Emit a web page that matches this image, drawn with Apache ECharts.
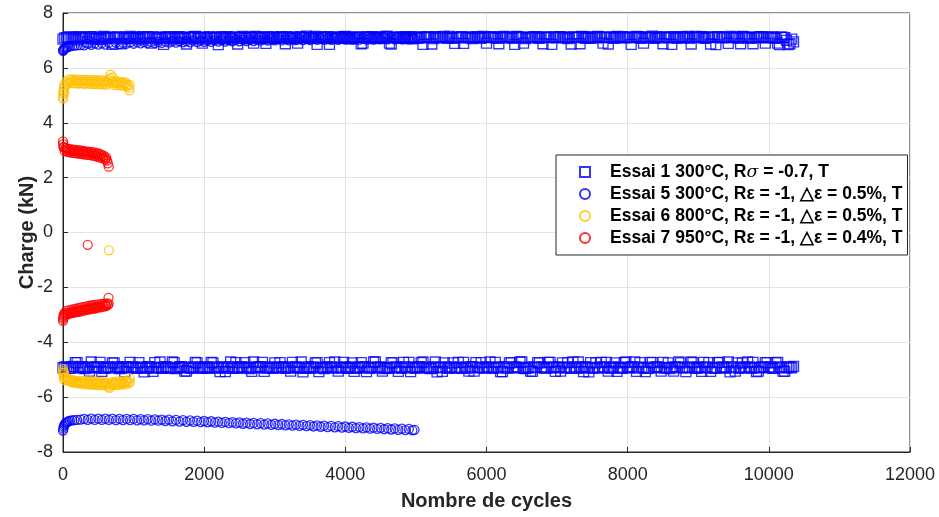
<!DOCTYPE html>
<html><head><meta charset="utf-8">
<script src="https://cdn.jsdelivr.net/npm/echarts@6/dist/echarts.min.js"></script>
<style>html,body{margin:0;padding:0;background:#fff}#c{width:939px;height:517px}</style>
</head><body><div id="c"></div>
<script>
// ---- Data ----
const xTicks = [0, 2000, 4000, 6000, 8000, 10000, 12000];
const yTicks = [-8, -6, -4, -2, 0, 2, 4, 6, 8];

const seriesNames = [
  'Essai 1 300°C, Rσ = -0.7, T',
  'Essai 5 300°C, Rε = -1, \u25B3ε = 0.5%, T',
  'Essai 6 800°C, Rε = -1, \u25B3ε = 0.5%, T',
  'Essai 7 950°C, Rε = -1, \u25B3ε = 0.4%, T'
];

// Essai 1 (squares): cycles and peak loads (max / min)
const e1Cycles = [
  0,50,100,150,200,250,300,350,400,450,500,550,600,650,700,750,800,850,900,950,
  1000,1050,1100,1150,1200,1250,1300,1350,1400,1450,1500,1550,1600,1650,1700,1750,1800,1850,1900,1950,
  2000,2050,2100,2150,2200,2250,2300,2350,2400,2450,2500,2550,2600,2650,2700,2750,2800,2850,2900,2950,
  3000,3050,3100,3150,3200,3250,3300,3350,3400,3450,3500,3550,3600,3650,3700,3750,3800,3850,3900,3950,
  4000,4050,4100,4150,4200,4250,4300,4350,4400,4450,4500,4550,4600,4650,4700,4750,4800,4850,4900,4950,
  5000,5050,5100,5150,5200,5250,5300,5350,5400,5450,5500,5550,5600,5650,5700,5750,5800,5850,5900,5950,
  6000,6050,6100,6150,6200,6250,6300,6350,6400,6450,6500,6550,6600,6650,6700,6750,6800,6850,6900,6950,
  7000,7050,7100,7150,7200,7250,7300,7350,7400,7450,7500,7550,7600,7650,7700,7750,7800,7850,7900,7950,
  8000,8050,8100,8150,8200,8250,8300,8350,8400,8450,8500,8550,8600,8650,8700,8750,8800,8850,8900,8950,
  9000,9050,9100,9150,9200,9250,9300,9350,9400,9450,9500,9550,9600,9650,9700,9750,9800,9850,9900,9950,
  10000,10050,10100,10150,10200,10250,10300,10350];
const e1Max = [
  7.05,7.1,7.13,7.08,7.02,7.12,7.09,6.95,7.14,7.07,7.11,7.04,7.1,7.13,6.86,7.09,7.12,7.06,7.1,7.15,
  7.08,7.12,7.05,7.1,7.14,6.9,7.09,7.12,7.07,7.11,7.14,7.06,7.1,7.13,7.08,6.87,7.11,7.14,7.07,7.1,
  7.13,7.06,7.12,7.09,6.85,7.14,7.08,7.11,7.05,7.12,7.1,7.15,7.07,7.11,6.9,7.13,7.08,7.1,7.14,7.06,
  7.11,7.09,7.14,6.88,7.1,7.12,7.07,7.13,7.1,7.16,7.08,7.11,6.86,7.12,7.09,7.14,7.07,7.1,7.13,7.08,
  7.15,7.1,7.06,7.12,7.09,6.9,7.14,7.1,7.07,7.13,7.11,7.08,7.15,6.87,7.1,7.12,7.08,7.14,7.1,7.06,
  7.12,7.09,6.86,7.14,7.1,7.07,7.13,7.11,7.15,7.08,7.1,6.89,7.12,7.14,7.09,7.11,7.07,7.13,7.1,7.15,
  6.9,7.1,7.13,7.08,7.12,7.15,7.09,7.11,6.86,7.14,7.1,7.07,7.12,7.1,7.14,7.08,6.88,7.12,7.1,7.13,
  7.09,7.14,7.11,7.07,6.87,7.12,7.1,7.15,7.08,7.11,7.13,7.09,7.14,6.9,7.1,7.12,7.08,7.15,7.11,7.09,
  7.13,6.86,7.1,7.14,7.08,7.12,7.1,7.16,7.09,7.12,6.88,7.1,7.14,7.11,7.08,7.13,7.1,7.15,6.87,7.12,
  7.1,7.14,7.08,7.12,7.1,6.85,7.13,7.09,7.11,7.15,7.1,7.12,6.88,7.14,7.1,7.08,7.12,7.1,7.14,6.9,
  7.1,7.13,7.08,6.85,7.11,7.0,6.88,6.95];
const e1Min = [
  -4.93,-4.9,-4.95,-4.88,-4.74,-4.92,-4.96,-4.9,-4.72,-4.93,-4.89,-5.06,-4.94,-4.9,-4.75,-4.92,-4.96,-4.89,-4.93,-4.73,
  -4.9,-4.95,-4.92,-5.08,-4.89,-4.94,-4.74,-4.91,-4.95,-4.9,-4.93,-4.72,-4.96,-4.89,-4.92,-5.05,-4.94,-4.9,-4.75,-4.93,
  -4.91,-4.95,-4.73,-4.9,-4.94,-4.92,-5.07,-4.89,-4.95,-4.74,-4.91,-4.93,-4.9,-4.96,-4.72,-4.92,-4.89,-5.06,-4.94,-4.91,
  -4.75,-4.93,-4.9,-4.95,-4.92,-4.73,-4.89,-4.94,-5.08,-4.91,-4.95,-4.9,-4.74,-4.93,-4.96,-4.9,-4.92,-4.72,-5.05,-4.94,
  -4.9,-4.93,-4.75,-4.95,-4.91,-4.89,-5.07,-4.94,-4.72,-4.92,-4.9,-4.96,-4.93,-4.74,-4.91,-5.06,-4.95,-4.9,-4.73,-4.92,
  -4.94,-4.89,-4.72,-4.93,-4.96,-4.9,-5.08,-4.92,-4.75,-4.94,-4.9,-4.93,-4.73,-4.95,-4.91,-5.05,-4.89,-4.74,-4.93,-4.92,
  -4.9,-4.72,-4.95,-4.92,-5.07,-4.89,-4.94,-4.74,-4.91,-4.93,-4.72,-4.96,-4.9,-5.06,-4.93,-4.75,-4.91,-4.94,-4.73,-4.9,
  -4.93,-5.05,-4.92,-4.74,-4.95,-4.9,-4.72,-4.93,-4.89,-5.08,-4.94,-4.75,-4.91,-4.92,-4.73,-4.95,-4.9,-5.06,-4.93,-4.74,
  -4.92,-4.89,-4.72,-4.94,-4.91,-5.07,-4.95,-4.74,-4.9,-4.93,-4.73,-4.92,-4.96,-5.05,-4.9,-4.75,-4.93,-4.91,-4.72,-4.94,
  -4.9,-5.06,-4.93,-4.74,-4.92,-4.95,-4.73,-4.9,-4.94,-5.08,-4.91,-4.75,-4.93,-4.9,-4.72,-4.95,-4.92,-5.05,-4.9,-4.74,
  -4.92,-4.95,-4.75,-4.9,-5.05,-4.93,-4.9,-4.88];
// Essai 1, intermediate cycles
const e1CyclesB = [
  25,75,125,175,225,275,325,375,425,475,525,575,625,675,725,775,825,875,925,975,
  1025,1075,1125,1175,1225,1275,1325,1375,1425,1475,1525,1575,1625,1675,1725,1775,1825,1875,1925,1975,
  2025,2075,2125,2175,2225,2275,2325,2375,2425,2475,2525,2575,2625,2675,2725,2775,2825,2875,2925,2975,
  3025,3075,3125,3175,3225,3275,3325,3375,3425,3475,3525,3575,3625,3675,3725,3775,3825,3875,3925,3975,
  4025,4075,4125,4175,4225,4275,4325,4375,4425,4475,4525,4575,4625,4675,4725,4775,4825,4875,4925,4975,
  5025,5075,5125,5175,5225,5275,5325,5375,5425,5475,5525,5575,5625,5675,5725,5775,5825,5875,5925,5975,
  6025,6075,6125,6175,6225,6275,6325,6375,6425,6475,6525,6575,6625,6675,6725,6775,6825,6875,6925,6975,
  7025,7075,7125,7175,7225,7275,7325,7375,7425,7475,7525,7575,7625,7675,7725,7775,7825,7875,7925,7975,
  8025,8075,8125,8175,8225,8275,8325,8375,8425,8475,8525,8575,8625,8675,8725,8775,8825,8875,8925,8975,
  9025,9075,9125,9175,9225,9275,9325,9375,9425,9475,9525,9575,9625,9675,9725,9775,9825,9875,9925,9975,
  10025,10075,10125,10175,10225,10275,10325];
const e1MaxB = [
  7.09,7.12,7.06,7.11,7.14,7.08,7.1,7.13,7.05,7.12,7.09,7.15,7.08,7.11,7.1,7.13,6.88,7.12,7.08,7.1,
  7.12,7.07,7.14,7.1,7.09,7.13,7.06,7.11,6.86,7.12,7.1,7.08,7.14,7.11,7.07,7.12,7.1,7.15,7.09,6.9,
  7.1,7.13,7.08,7.12,7.1,7.06,7.14,7.09,7.12,6.87,7.11,7.08,7.13,7.1,7.15,7.07,7.12,6.89,7.1,7.13,
  7.08,7.12,7.1,7.14,7.07,7.11,6.9,7.13,7.09,7.12,7.1,7.15,7.08,7.11,7.13,6.86,7.1,7.12,7.09,7.14,
  7.1,7.07,7.13,7.11,6.88,7.12,7.09,7.14,7.1,7.08,7.12,7.15,6.9,7.11,7.09,7.13,7.1,7.07,7.14,7.11,
  7.08,7.13,7.1,7.12,6.87,7.14,7.09,7.11,7.1,7.15,7.08,7.12,7.1,6.89,7.13,7.09,7.11,7.14,7.08,7.12,
  7.11,7.14,7.09,6.88,7.12,7.1,7.13,7.08,7.15,7.11,6.9,7.1,7.12,7.14,7.09,7.11,7.13,7.1,6.86,7.12,
  7.14,7.1,7.12,7.09,7.13,7.11,6.88,7.14,7.1,7.08,7.12,7.15,7.1,7.11,6.87,7.13,7.09,7.12,7.14,7.1,
  7.1,7.12,7.15,7.09,6.9,7.13,7.11,7.08,7.14,7.1,7.12,7.09,6.86,7.13,7.1,7.14,7.11,7.08,7.12,7.15,
  7.12,7.09,7.13,6.87,7.11,7.14,7.1,7.12,6.89,7.1,7.13,7.08,7.15,7.11,7.1,6.88,7.12,7.14,7.09,7.11,
  7.12,7.09,6.9,7.13,7.1,6.85,7.05];
const e1MinB = [
  -4.91,-4.95,-4.9,-4.74,-4.93,-4.89,-4.94,-5.05,-4.92,-4.9,-4.73,-4.95,-4.91,-4.93,-4.75,-4.9,-4.94,-5.07,-4.92,-4.9,
  -4.94,-4.74,-4.91,-4.95,-4.9,-5.06,-4.93,-4.72,-4.92,-4.9,-4.95,-4.74,-4.93,-4.89,-5.05,-4.92,-4.94,-4.73,-4.91,-4.95,
  -4.9,-4.93,-4.75,-4.92,-5.07,-4.9,-4.94,-4.72,-4.91,-4.95,-4.9,-4.74,-4.93,-5.06,-4.92,-4.89,-4.73,-4.94,-4.91,-4.95,
  -4.92,-4.74,-4.9,-4.94,-5.05,-4.91,-4.93,-4.72,-4.95,-4.9,-4.92,-4.75,-5.07,-4.93,-4.9,-4.74,-4.94,-4.91,-4.92,-4.73,
  -4.95,-4.9,-5.06,-4.93,-4.74,-4.91,-4.94,-4.9,-4.72,-4.93,-5.05,-4.92,-4.95,-4.75,-4.9,-4.93,-4.73,-4.91,-5.07,-4.94,
  -4.9,-4.74,-4.93,-4.91,-4.95,-4.72,-4.92,-5.06,-4.9,-4.94,-4.75,-4.93,-4.91,-4.73,-4.95,-4.9,-5.05,-4.92,-4.74,-4.94,
  -4.91,-4.93,-4.73,-4.9,-5.07,-4.94,-4.75,-4.92,-4.9,-4.72,-4.95,-4.93,-5.05,-4.91,-4.74,-4.9,-4.94,-4.73,-4.92,-5.06,
  -4.9,-4.75,-4.93,-4.91,-4.72,-4.95,-4.9,-5.07,-4.93,-4.74,-4.92,-4.94,-4.73,-4.9,-5.05,-4.93,-4.75,-4.91,-4.95,-4.72,
  -4.93,-4.9,-5.06,-4.74,-4.92,-4.95,-4.73,-4.91,-4.9,-5.05,-4.94,-4.75,-4.92,-4.9,-4.72,-4.93,-5.07,-4.91,-4.74,-4.95,
  -4.92,-4.73,-4.9,-5.06,-4.94,-4.74,-4.91,-4.93,-4.72,-4.9,-5.05,-4.95,-4.75,-4.92,-4.9,-4.73,-5.07,-4.93,-4.91,-4.74,
  -4.9,-4.95,-4.73,-4.92,-5.06,-4.91,-4.93];

// Essai 5 (blue circles)
const e5Cycles = [0,5,10,20,30,45,60,80,100,130,160,200,250,
  300,350,400,450,500,550,600,650,700,750,800,850,900,950,1000,1050,1100,1150,1200,1250,
  1300,1350,1400,1450,1500,1550,1600,1650,1700,1750,1800,1850,1900,1950,2000,2050,2100,2150,2200,2250,
  2300,2350,2400,2450,2500,2550,2600,2650,2700,2750,2800,2850,2900,2950,3000,3050,3100,3150,3200,3250,
  3300,3350,3400,3450,3500,3550,3600,3650,3700,3750,3800,3850,3900,3950,4000,4050,4100,4150,4200,4250,
  4300,4350,4400,4450,4500,4550,4600,4650,4700,4750,4800,4850,4900,4950,4980];
const e5Max = [6.62,6.64,6.67,6.7,6.72,6.74,6.76,6.77,6.79,6.8,6.81,6.82,6.83,
  6.82,6.88,6.84,6.89,6.85,6.9,6.85,6.91,6.86,6.92,6.87,6.92,6.88,6.93,6.88,6.94,6.89,6.94,6.9,6.95,
  6.9,6.95,6.91,6.96,6.92,6.97,6.92,6.97,6.93,6.98,6.93,6.99,6.94,6.99,6.95,7.0,6.95,7.0,6.96,7.01,
  6.96,7.01,6.97,7.02,6.97,7.02,6.98,7.03,6.98,7.03,6.99,7.04,6.99,7.04,7.0,7.05,7.0,7.05,7.0,7.05,
  7.01,7.06,7.01,7.06,7.01,7.06,7.02,7.07,7.02,7.07,7.02,7.07,7.02,7.07,7.03,7.08,7.03,7.08,7.03,7.08,
  7.03,7.08,7.03,7.08,7.04,7.08,7.04,7.09,7.04,7.09,7.04,7.08,7.05,7.09,7.06];
const e5Min = [-7.22,-7.15,-7.08,-7.02,-6.97,-6.93,-6.9,-6.88,-6.86,-6.85,-6.84,-6.83,-6.82,
  -6.79,-6.83,-6.78,-6.83,-6.78,-6.83,-6.78,-6.83,-6.78,-6.84,-6.79,-6.84,-6.79,-6.84,-6.79,-6.85,-6.8,-6.85,-6.8,-6.86,
  -6.81,-6.86,-6.82,-6.87,-6.82,-6.88,-6.83,-6.89,-6.84,-6.9,-6.85,-6.9,-6.86,-6.91,-6.87,-6.92,-6.88,-6.93,-6.89,-6.94,
  -6.9,-6.95,-6.91,-6.96,-6.92,-6.97,-6.93,-6.98,-6.94,-6.99,-6.95,-7.0,-6.96,-7.01,-6.97,-7.02,-6.98,-7.03,-6.99,-7.04,
  -7.0,-7.05,-7.01,-7.06,-7.02,-7.07,-7.03,-7.08,-7.04,-7.09,-7.05,-7.1,-7.06,-7.11,-7.07,-7.12,-7.08,-7.13,-7.09,-7.14,
  -7.1,-7.15,-7.11,-7.16,-7.12,-7.17,-7.13,-7.18,-7.14,-7.19,-7.15,-7.2,-7.16,-7.21,-7.19];

// Essai 6 (yellow circles)
const e6Cycles = [0,15,30,45,60,75,90,105,120,135,150,165,180,195,210,225,240,255,270,285,
  300,315,330,345,360,375,390,405,420,435,450,465,480,495,510,525,540,555,570,585,
  600,615,630,645,660,675,690,705,720,735,750,765,780,795,810,825,840,855,870,885,
  900,915,930,945];
const e6Max = [4.88,5.1,5.32,5.5,5.42,5.56,5.47,5.58,5.45,5.53,5.58,5.44,5.52,5.57,5.43,5.5,5.57,5.44,5.52,5.56,
  5.42,5.5,5.56,5.43,5.5,5.55,5.42,5.49,5.55,5.41,5.48,5.55,5.41,5.48,5.54,5.4,5.47,5.54,5.4,5.47,
  5.53,5.39,5.46,5.55,5.62,5.75,5.45,5.52,5.38,5.45,5.51,5.37,5.44,5.5,5.36,5.43,5.48,5.35,5.42,5.47,
  5.34,5.4,5.28,5.38];
const e6Min = [-4.98,-5.12,-5.25,-5.3,-5.38,-5.33,-5.42,-5.36,-5.45,-5.38,-5.47,-5.4,-5.45,-5.5,-5.41,-5.46,-5.51,-5.42,-5.47,-5.52,
  -5.42,-5.48,-5.53,-5.43,-5.48,-5.54,-5.43,-5.49,-5.54,-5.44,-5.5,-5.55,-5.44,-5.5,-5.56,-5.45,-5.5,-5.56,-5.45,-5.51,
  -5.57,-5.46,-5.52,-5.62,-5.66,-5.5,-5.56,-5.45,-5.5,-5.56,-5.44,-5.5,-5.55,-5.43,-5.49,-5.54,-5.42,-5.48,-5.53,-5.42,
  -5.47,-5.4,-5.5,-5.32];
const e6ExtraCycles = [2, 5, 8, 10, 20, 2, 5, 8, 12, 20, 940, 700, 650, 945];
const e6Extra = [4.95, 5.05, 5.15, 5.25, 5.38, -5.05, -5.12, -5.2, -5.3, -5.38, 5.18, 5.65, -0.65, -5.45];

// Essai 7 (red circles)
const e7Cycles = [0,12,24,36,48,60,72,84,96,108,120,132,144,156,168,180,192,204,216,228,
  240,252,264,276,288,300,312,324,336,348,360,372,384,396,408,420,432,444,456,468,
  480,492,504,516,528,540,552,564,576,588,600,612,624,636,648];
const e7Max = [3.32,3.1,2.98,3.08,3.02,2.94,3.06,2.99,2.92,3.04,2.97,2.9,3.02,2.96,2.89,3.01,2.95,2.88,3.0,2.94,
  2.87,2.99,2.93,2.86,2.97,2.92,2.84,2.96,2.91,2.83,2.95,2.89,2.82,2.94,2.88,2.8,2.92,2.86,2.78,2.9,
  2.84,2.76,2.88,2.81,2.73,2.85,2.78,2.7,2.8,2.74,2.66,2.74,2.62,2.52,2.4];
const e7Min = [-3.22,-3.05,-2.92,-3.0,-2.86,-2.94,-2.98,-2.84,-2.92,-2.95,-2.81,-2.89,-2.93,-2.79,-2.87,-2.91,-2.77,-2.85,-2.89,-2.75,
  -2.83,-2.87,-2.73,-2.81,-2.85,-2.71,-2.79,-2.83,-2.69,-2.77,-2.81,-2.67,-2.75,-2.79,-2.66,-2.74,-2.78,-2.64,-2.72,-2.76,
  -2.63,-2.7,-2.74,-2.62,-2.69,-2.72,-2.6,-2.67,-2.7,-2.59,-2.65,-2.68,-2.58,-2.64,-2.6];
const e7ExtraCycles = [3, 6, 3, 6, 9, 645, 350];
const e7Extra = [3.22, 3.12, -3.15, -3.1, -3.0, -2.38, -0.45];

// ---- Build ----
function pairs(xs, ys) { return xs.map((x, i) => [x, ys[i]]); }
const font = "'Liberation Sans', Arial, sans-serif";
const dark = '#262626';

function sc(name, symbol, color, size, data) {
  return {
    name, type: 'scatter', symbol, symbolSize: size, data,
    itemStyle: { color: 'rgba(0,0,0,0)', borderColor: color, borderWidth: 1.3 },
    emphasis: { disabled: true }, animation: false
  };
}

const option = {
  animation: false,
  grid: { left: 63, right: 29, top: 13, bottom: 65, show: true, borderColor: dark, borderWidth: 1, backgroundColor: '#fff' },
  xAxis: {
    type: 'value', min: xTicks[0], max: xTicks[xTicks.length - 1], interval: 2000,
    name: 'Nombre de cycles', nameLocation: 'middle', nameGap: 39, nameMoveOverlap: false,
    nameTextStyle: { fontFamily: font, fontSize: 20, fontWeight: 'bold', color: dark },
    axisLine: { show: true, onZero: false, lineStyle: { color: dark } },
    axisTick: { show: true, inside: true, length: 5, lineStyle: { color: dark } },
    axisLabel: { fontFamily: font, fontSize: 18, color: dark, margin: 14, formatter: v => String(v) },
    splitLine: { show: true, lineStyle: { color: '#e3e3e3' } }
  },
  yAxis: {
    type: 'value', min: yTicks[0], max: yTicks[yTicks.length - 1], interval: 2,
    name: 'Charge (kN)', nameLocation: 'middle', nameGap: 26, nameMoveOverlap: false,
    nameTextStyle: { fontFamily: font, fontSize: 20, fontWeight: 'bold', color: dark },
    axisLine: { show: true, onZero: false, lineStyle: { color: dark } },
    axisTick: { show: true, inside: true, length: 5, lineStyle: { color: dark } },
    axisLabel: { fontFamily: font, fontSize: 18, color: dark, margin: 10, formatter: v => String(v) },
    splitLine: { show: true, lineStyle: { color: '#e3e3e3' } }
  },
  legend: {
    orient: 'vertical', left: 556, top: 155,
    backgroundColor: '#fff', borderColor: dark, borderWidth: 1,
    padding: [8, 5, 8, 23], itemGap: 4, itemWidth: 10, itemHeight: 10,
    data: [
      { name: seriesNames[0], icon: 'rect' },
      { name: seriesNames[1], icon: 'circle' },
      { name: seriesNames[2], icon: 'circle' },
      { name: seriesNames[3], icon: 'circle' }
    ],
    formatter: function (n) {
      if (n === seriesNames[0]) return '{b|Essai 1 300°C, R}{s|σ}{b| = -0.7, T}';
      return '{b|' + n + '}';
    },
    textStyle: {
      fontFamily: font, fontSize: 17.5, fontWeight: 'bold', color: '#000', padding: [0, 0, 0, 15],
      rich: {
        b: { fontFamily: font, fontSize: 17.5, fontWeight: 'bold', color: '#000' },
        s: { fontFamily: "'DejaVu Serif', serif", fontSize: 17.5, fontStyle: 'italic', fontWeight: 'normal', color: '#000' }
      }
    }
  },
  series: [
    sc(seriesNames[0], 'rect', '#0000ff', 10, pairs(e1Cycles, e1Max).concat(pairs(e1CyclesB, e1MaxB), pairs(e1Cycles, e1Min), pairs(e1CyclesB, e1MinB))),
    sc(seriesNames[1], 'circle', '#0000ff', 9, pairs(e5Cycles, e5Max).concat(pairs(e5Cycles, e5Min))),
    sc(seriesNames[2], 'circle', '#ffbf00', 9, pairs(e6Cycles, e6Max).concat(pairs(e6Cycles, e6Min), pairs(e6ExtraCycles, e6Extra))),
    sc(seriesNames[3], 'circle', '#ff0000', 9, pairs(e7Cycles, e7Max).concat(pairs(e7Cycles, e7Min), pairs(e7ExtraCycles, e7Extra)))
  ]
};
echarts.init(document.getElementById('c'), null, { renderer: 'canvas' }).setOption(option);
</script>
</body></html>
